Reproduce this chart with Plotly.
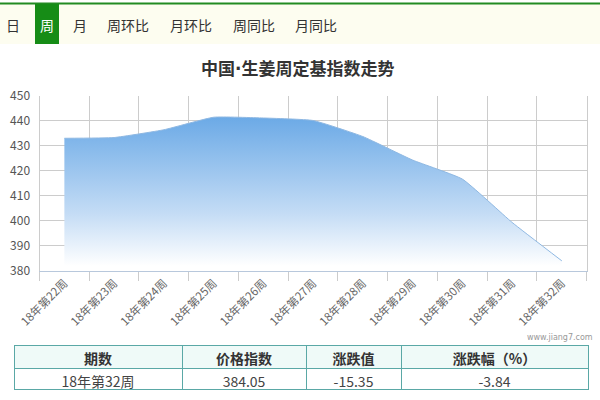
import plotly.graph_objects as go

# ---- data ----
weeks = ["18年第22周", "18年第23周", "18年第24周", "18年第25周", "18年第26周", "18年第27周",
         "18年第28周", "18年第29周", "18年第30周", "18年第31周", "18年第32周"]
index_values = [433.0, 433.3, 436.4, 441.4, 441.1, 440.1, 433.7, 424.3, 416.7, 399.4, 384.05]
y_ticks = [380, 390, 400, 410, 420, 430, 440, 450]

tabs = ["日", "周", "月", "周环比", "月环比", "周同比", "月同比"]
active_tab = "周"

table_header = ["期数", "价格指数", "涨跌值", "涨跌幅（%）"]
table_row = ["18年第32周", "384.05", "-15.35", "-3.84"]

title_text = '中国<span style="font-family:DejaVu Sans">·</span>生姜周定基指数走势'
watermark = "www.jiang7.com"

W, H = 600, 400
FONT = "Noto Sans CJK SC"

def px(x):
    return x / W

def py(y):
    return 1 - y / H

fig = go.Figure()

fig.add_trace(go.Scatter(
    x=weeks, y=index_values, mode="lines",
    line=dict(color="#8fb8e2", width=1, shape="spline", smoothing=0.4),
    fill="tozeroy",
    fillgradient=dict(type="vertical", start=382, stop=442,
                      colorscale=[[0, "rgba(255,255,255,1)"], [0.35, "#c4dcf5"], [1, "#6aa9e6"]]),
    hoverinfo="x+y", showlegend=False,
))

fig.add_trace(go.Table(
    domain=dict(x=[px(14), px(588)], y=[py(398), py(345)]),
    columnwidth=[168, 124, 95, 187],
    header=dict(values=table_header, fill_color="#effaf8", line_color="#5aa8a6",
                align="center", height=23,
                font=dict(family=FONT, size=14, color="#333333", weight="bold")),
    cells=dict(values=[[v] for v in table_row], fill_color="#ffffff", line_color="#5aa8a6",
               align="center", height=21,
               font=dict(family=FONT, size=14, color="#444444")),
))

# tab bar
shapes = [
    dict(type="rect", xref="paper", yref="paper", x0=0, x1=1, y0=py(44), y1=py(4),
         fillcolor="#fdfdf0", line_width=0, layer="below"),
    dict(type="line", xref="paper", yref="paper", x0=0, x1=1, y0=py(3.5), y1=py(3.5),
         line=dict(color="#228b22", width=2)),
]
tab_x = [12.7, 47, 80, 128, 191, 254, 316]
annotations = []
for name, cx in zip(tabs, tab_x):
    active = name == active_tab
    if active:
        shapes.append(dict(type="rect", xref="paper", yref="paper", x0=px(35), x1=px(59),
                           y0=py(44), y1=py(4), fillcolor="#168c16", line_width=0))
    annotations.append(dict(text=name, x=px(cx), y=py(25), xref="paper", yref="paper",
                            showarrow=False, xanchor="center", yanchor="middle",
                            font=dict(family=FONT, size=14, color="#ffffff" if active else "#333333")))

annotations.append(dict(text=title_text, x=px(297), y=py(67), xref="paper", yref="paper",
                        showarrow=False, xanchor="center", yanchor="middle",
                        font=dict(family=FONT, size=17, color="#333333", weight="bold")))
annotations.append(dict(text=watermark, x=px(595), y=py(337), xref="paper", yref="paper",
                        showarrow=False, xanchor="right", yanchor="middle",
                        font=dict(family="DejaVu Sans", size=8, color="#999999")))

fig.update_layout(
    width=W, height=H,
    margin=dict(l=0, r=0, t=0, b=0, autoexpand=False),
    paper_bgcolor="#ffffff", plot_bgcolor="#ffffff",
    shapes=shapes, annotations=annotations,
    xaxis=dict(domain=[px(39.5), px(586.7)], type="category", range=[-0.5, 10.5],
               automargin=False,
               tickson="boundaries", showgrid=True, gridcolor="#cccccc", gridwidth=1,
               ticks="outside", ticklen=9, tickcolor="#cccccc",
               showline=True, linecolor="#b8c8dc", linewidth=1,
               tickangle=-45, tickfont=dict(family=FONT, size=11.5, color="#666666"),
               fixedrange=True),
    yaxis=dict(domain=[py(271), py(95.7)], range=[380, 450], tickvals=y_ticks,
               automargin=False,
               showline=True, linecolor="#cccccc", linewidth=1, mirror=True,
               showgrid=True, gridcolor="#cccccc", gridwidth=1, zeroline=False,
               ticks="", ticklabelstandoff=6,
               tickfont=dict(family=FONT, size=12, color="#555555"),
               fixedrange=True),
    font=dict(family=FONT),
)

fig.write_html("out.html")
